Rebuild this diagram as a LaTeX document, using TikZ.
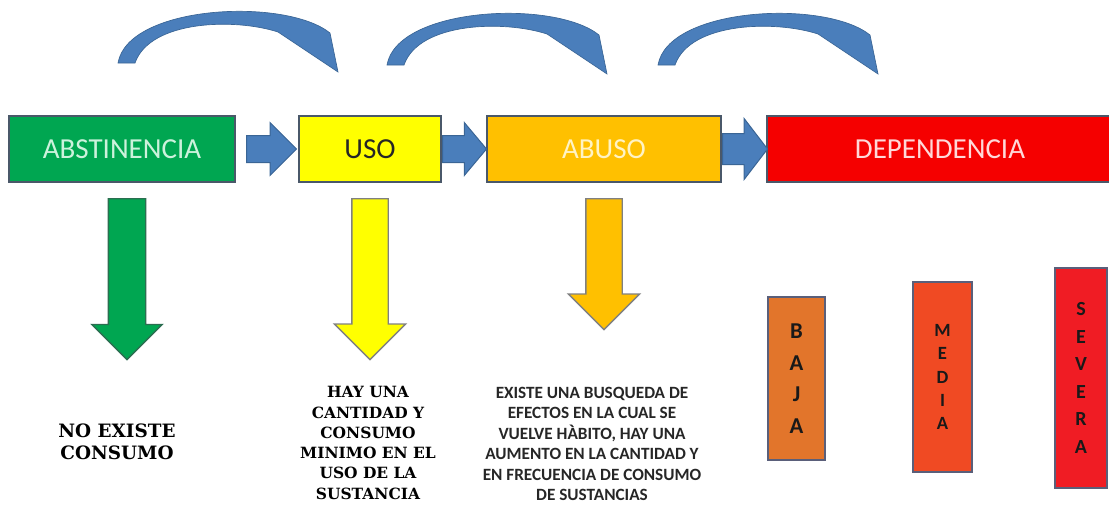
\documentclass[tikz,border=0pt]{standalone}
\usepackage{fontspec}
\setmainfont{Carlito}
\newfontfamily\serifnegra{DejaVu Serif}
\usetikzlibrary{positioning}
\usetikzlibrary{calc}
\usetikzlibrary{shapes.arrows}

\newcommand{\pxu}{0.75pt}

\definecolor{verde}{HTML}{00A651}
\definecolor{bordeverde}{HTML}{2B6E50}
\definecolor{textoverde}{HTML}{CCF2DC}
\definecolor{amarillo}{HTML}{FFFF00}
\definecolor{naranja}{HTML}{FFC000}
\definecolor{textonaranja}{HTML}{FFF3C4}
\definecolor{rojo}{HTML}{F50000}
\definecolor{textorojo}{HTML}{FFD8D8}
\definecolor{bordecaja}{HTML}{4A5869}
\definecolor{azul}{HTML}{4A7EBB}
\definecolor{bordeazul}{HTML}{3A6595}
\definecolor{colbaja}{HTML}{E2752B}
\definecolor{colmedia}{HTML}{F04A23}
\definecolor{colsevera}{HTML}{F01C24}
\definecolor{bordebarra}{HTML}{5A5F7A}

\tikzset{
	caja/.style={draw=bordecaja, line width=1.5pt, minimum height=66*\pxu, inner sep=0pt, font=\fontsize{21.75}{26}\selectfont},
	flecha/.style={single arrow, draw=bordeazul, fill=azul, line width=0.75pt, inner xsep=0pt, minimum width=0pt},
	bajada/.style={single arrow, rotate=-90, line width=1pt, inner xsep=0pt, minimum width=0pt, anchor=tail},
	barra/.style={draw=bordebarra, line width=1.5pt, inner sep=0pt, align=center, text=black!90},
	curva/.style={fill=azul, draw=bordeazul, line width=0.5pt},
}

\begin{document}
\begin{tikzpicture}[x=0.75pt, y=-0.75pt]
	\useasboundingbox (0,0) rectangle (1109,504);

	% etapas
	\node (abs) [caja, fill=verde, text=textoverde, minimum width=226*\pxu] at (122,149) {ABSTINENCIA};
	\node (uso) [caja, fill=amarillo, text=black!85, minimum width=142*\pxu, right=62*\pxu of abs] {USO};
	\node (abuso) [caja, fill=naranja, text=textonaranja, minimum width=234*\pxu, right=44*\pxu of uso] {ABUSO};
	\node (dep) [caja, fill=rojo, text=textorojo, minimum width=346*\pxu, right=44*\pxu of abuso] {DEPENDENCIA};

	% flechas entre etapas
	\node (f1) [flecha, minimum height=50*\pxu, inner ysep=13*\pxu, single arrow head extend=13*\pxu, right=10*\pxu of abs] {};
	\node (f2) [flecha, minimum height=44*\pxu, inner ysep=13*\pxu, single arrow head extend=13*\pxu, single arrow tip angle=100, right=0pt of uso] {};
	\node (f3) [flecha, minimum height=45*\pxu, inner ysep=15*\pxu, single arrow head extend=15*\pxu, single arrow tip angle=105, right=0pt of abuso] {};

	% flechas curvas
	\foreach \dx/\dy in {0/0,269/2,540/2}
		\filldraw[curva, shift={(\dx,\dy)}] (118,63) .. controls (128,5) and (285,-3) .. (330,33) -- (338,72) -- (278,32) .. controls (235,18) and (150,20) .. (135,63) -- cycle;

	% flechas hacia abajo
	\node (f4) [bajada, fill=verde, draw=bordeverde, minimum height=161*\pxu, inner ysep=18*\pxu, single arrow head extend=16.5*\pxu] at ($(abs.south)+(5,15)$) {};
	\node (f5) [bajada, fill=amarillo, draw=gray, minimum height=161*\pxu, inner ysep=17.5*\pxu, single arrow head extend=17.5*\pxu] at ($(uso.south)+(0,15)$) {};
	\node (f6) [bajada, fill=naranja, draw=gray, minimum height=131*\pxu, inner ysep=17.5*\pxu, single arrow head extend=17.5*\pxu] at ($(abuso.south)+(0,15)$) {};

	% descripciones
	\node (t1) [align=center, inner sep=0pt, font=\serifnegra\bfseries\fontsize{13.8}{16.5}\selectfont] at (117,442) {NO EXISTE\\CONSUMO};
	\node (t2) [align=center, inner sep=0pt, font=\serifnegra\bfseries\fontsize{11.6}{15.2}\selectfont] at (368,443) {HAY UNA\\CANTIDAD Y\\CONSUMO\\MINIMO EN EL\\USO DE LA\\SUSTANCIA};
	\node (t3) [align=center, inner sep=0pt, text=black!85, font=\bfseries\fontsize{12.9}{15.3}\selectfont] at (592,444) {EXISTE UNA BUSQUEDA DE\\EFECTOS EN LA CUAL SE\\VUELVE HÀBITO, HAY UNA\\AUMENTO EN LA CANTIDAD Y\\EN FRECUENCIA DE CONSUMO\\DE SUSTANCIAS};

	% niveles de dependencia
	\node (baja) [barra, fill=colbaja, minimum width=57*\pxu, minimum height=163*\pxu, font=\bfseries\fontsize{17}{23.6}\selectfont] at (796.5,378.5) {B\\A\\J\\A};
	\node (media) [barra, fill=colmedia, minimum width=59*\pxu, minimum height=190*\pxu, font=\bfseries\fontsize{14}{17.3}\selectfont] at (942.5,377) {M\\E\\D\\I\\A};
	\node (severa) [barra, fill=colsevera, minimum width=52*\pxu, minimum height=220*\pxu, font=\bfseries\fontsize{15}{20.7}\selectfont] at (1081,378) {S\\E\\V\\E\\R\\A};
\end{tikzpicture}
\end{document}
